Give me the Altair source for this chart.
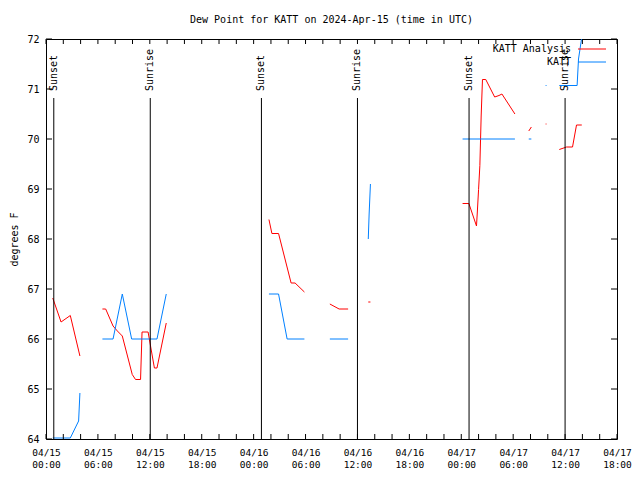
import altair as alt
import pandas as pd

# ---- data (hours since 2024-04-15 00:00 UTC, values in degrees F) ----
series_names = ["KATT Analysis", "KATT"]
series_colors = ["#ff0000", "#0080ff"]

# KATT Analysis (red), broken into segments
ana_t = [
    [0.78, 1.74, 2.81, 3.92],
    [6.52, 6.9, 7.75, 8.25, 8.82, 9.97, 10.35, 10.93, 11.1, 11.8, 12.53, 12.83, 13.9],
    [25.77, 26.11, 26.88, 28.33, 28.79, 29.87],
    [32.81, 33.88, 34.92],
    [37.25, 37.5],
    [48.15, 48.88, 49.76, 49.85, 50.0, 50.15, 50.3, 50.45, 50.83, 51.86, 52.36, 52.7, 54.2],
    [55.8, 56.1],
    [57.75, 57.85],
    [59.33, 60.17, 60.86, 61.32, 61.93],
]
ana_v = [
    [66.82, 66.34, 66.47, 65.66],
    [66.60, 66.60, 66.26, 66.16, 66.06, 65.29, 65.19, 65.19, 66.14, 66.14, 65.42, 65.42, 66.32],
    [68.39, 68.11, 68.11, 67.12, 67.12, 66.94],
    [66.70, 66.60, 66.60],
    [66.74, 66.74],
    [68.71, 68.71, 68.26, 68.52, 68.99, 69.47, 70.46, 71.19, 71.19, 70.84, 70.87, 70.90, 70.50],
    [70.16, 70.24],
    [70.30, 70.30],
    [69.79, 69.84, 69.84, 70.28, 70.28],
]

# KATT observations (blue)
obs_t = [
    [0.78, 2.81, 3.77, 3.92],
    [6.52, 7.75, 8.82, 9.9, 12.83, 13.9],
    [25.77, 26.88, 27.87, 29.87],
    [32.81, 34.92],
    [37.25, 37.35, 37.5],
    [48.15, 54.2],
    [55.8, 56.1],
    [57.75, 57.85],
    [59.33, 61.39, 61.55, 61.9],
]
obs_v = [
    [64.02, 64.02, 64.36, 64.92],
    [66.0, 66.0, 66.9, 66.0, 66.0, 66.9],
    [66.9, 66.9, 66.0, 66.0],
    [66.0, 66.0],
    [68.0, 68.5, 69.1],
    [70.0, 70.0],
    [70.0, 70.0],
    [71.07, 71.07],
    [71.07, 71.07, 71.6, 72.0],
]

sun_labels = ["Sunset", "Sunrise", "Sunset", "Sunrise", "Sunset", "Sunrise"]
sun_hours = [0.9, 12.05, 24.9, 36.0, 48.9, 60.0]

x_label_hours = list(range(0, 67, 6))
x_tick_hours = list(range(0, 67, 2))
y_tick_vals = list(range(64, 73))

# ---- build tables ----
rows = []
for name, ts, vs in [(series_names[0], ana_t, ana_v), (series_names[1], obs_t, obs_v)]:
    for i, (tt, vv) in enumerate(zip(ts, vs)):
        for k, (a, b) in enumerate(zip(tt, vv)):
            rows.append({"series": name, "seg": f"{name}-{i}", "order": k, "t": a, "v": b})
df = pd.DataFrame(rows)
sun_df = pd.DataFrame({"t": sun_hours, "label": sun_labels})
xt_df = pd.DataFrame({"t": x_tick_hours})
yt_df = pd.DataFrame({"v": y_tick_vals})

W, H = 571, 400
FONT = "DejaVu Sans Mono"

xscale = alt.Scale(domain=[0, 66], nice=False, zero=False)
yscale = alt.Scale(domain=[64, 72], nice=False, zero=False)

label_expr = ("['04/' + (15 + floor(datum.value / 24)), "
              "(datum.value % 24 < 10 ? '0' : '') + (datum.value % 24) + ':00']")

x_axis = alt.Axis(values=x_label_hours, tickSize=0, domain=False, grid=False,
                  labelExpr=label_expr, labelFontSize=9.5, labelPadding=8,
                  labelBaseline="top", labelLineHeight=12, labelFlush=False,
                  labelOverlap=False, title=None, labelColor="black")
y_axis = alt.Axis(values=y_tick_vals, tickSize=0, domain=False, grid=False,
                  labelFontSize=10, labelPadding=7, labelColor="black",
                  title="degrees F", titleFontSize=10, titleFontWeight="normal",
                  titleX=-32, titleY=200, titleAngle=270, titleAlign="center",
                  titleBaseline="middle", titleColor="black")

lines = alt.Chart(df).mark_line(strokeWidth=1, clip=True).encode(
    x=alt.X("t:Q", scale=xscale, axis=x_axis),
    y=alt.Y("v:Q", scale=yscale, axis=y_axis),
    color=alt.Color("series:N", scale=alt.Scale(domain=series_names, range=series_colors), legend=None),
    detail="seg:N",
    order="order:Q",
)

sun_rules = alt.Chart(sun_df).mark_rule(color="black", strokeWidth=1).encode(
    x=alt.X("t:Q", scale=xscale), y=alt.value(59), y2=alt.value(H)
)
sun_text = alt.Chart(sun_df).mark_text(angle=270, align="left", baseline="middle",
                                      fontSize=10, font=FONT, color="black").encode(
    x=alt.X("t:Q", scale=xscale), y=alt.value(52), text="label:N"
)

xt_bottom = alt.Chart(xt_df).mark_rule(color="black").encode(
    x=alt.X("t:Q", scale=xscale), y=alt.value(H), y2=alt.value(H - 5))
xt_top = alt.Chart(xt_df).mark_rule(color="black").encode(
    x=alt.X("t:Q", scale=xscale), y=alt.value(0), y2=alt.value(5))
yt_left = alt.Chart(yt_df).mark_rule(color="black").encode(
    y=alt.Y("v:Q", scale=yscale), x=alt.value(0), x2=alt.value(6))
yt_right = alt.Chart(yt_df).mark_rule(color="black").encode(
    y=alt.Y("v:Q", scale=yscale), x=alt.value(W), x2=alt.value(W - 6))

# legend (gnuplot style: label then line sample)
leg_df = pd.DataFrame({"series": series_names})
leg_layers = []
for i, name in enumerate(series_names):
    yy = 10 + 13 * i
    d = leg_df[leg_df["series"] == name]
    leg_layers.append(alt.Chart(d).mark_text(align="right", baseline="middle", fontSize=10,
                                             font=FONT, color="black").encode(
        x=alt.value(W - 46), y=alt.value(yy), text="series:N"))
    leg_layers.append(alt.Chart(d).mark_rule(color=series_colors[i], strokeWidth=1).encode(
        x=alt.value(W - 39), x2=alt.value(W - 11), y=alt.value(yy)))

chart = alt.layer(lines, sun_rules, sun_text, xt_bottom, xt_top, yt_left, yt_right,
                  *leg_layers).properties(
    width=W, height=H,
    title=alt.TitleParams("Dew Point for KATT on 2024-Apr-15 (time in UTC)", fontSize=10,
                          fontWeight="normal", anchor="middle", frame="group",
                          offset=9, font=FONT, color="black"),
    autosize=alt.AutoSizeParams(type="none"),
    padding={"left": 38, "top": 31, "right": 15, "bottom": 30},
).configure(font=FONT, background="white").configure_view(stroke="black", strokeWidth=1)

chart.save("out.html", embed_options={"renderer": "svg", "actions": False})
